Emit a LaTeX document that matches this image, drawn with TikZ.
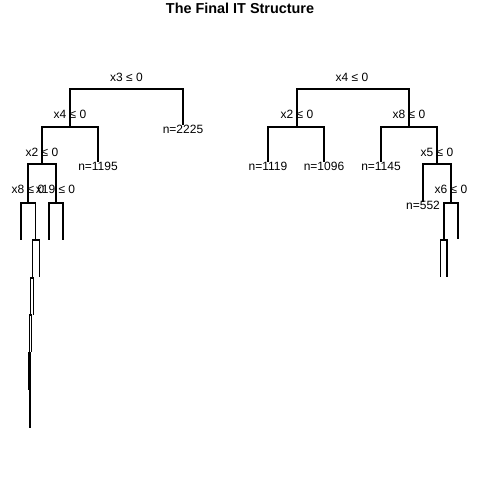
\documentclass[tikz,border=0pt]{standalone}
\usepackage{fontspec}
\setmainfont{Liberation Sans}
\begin{document}
\begin{tikzpicture}[x=1pt,y=-1pt,
  edge/.style={draw=black,line width=1.2pt},
  split/.style={inner sep=0pt,font=\fontsize{12}{12}\selectfont},
  leaf/.style={inner sep=0pt,font=\fontsize{12}{12}\selectfont},
  titlestyle/.style={inner sep=0pt,font=\fontsize{14.4}{14.4}\selectfont\bfseries}]
\useasboundingbox (0,0) rectangle (480,480);
\fill[white] (0,0) rectangle (480,480);
\node[titlestyle] (title) at (240,8.5) {The Final IT Structure};
% ---------- left tree ----------
\coordinate (A) at (126.5,89);
\coordinate (B) at (70,127);
\coordinate (C) at (183,125);
\coordinate (D) at (42,164);
\coordinate (E) at (98,162);
\coordinate (F) at (28,203);
\coordinate (G) at (56,203);
\coordinate (F1) at (21,240);
\coordinate (F2) at (35.7,240);
\coordinate (G1) at (49,240);
\coordinate (G2) at (63,240);
\coordinate (H1) at (32.3,278);
\coordinate (H2) at (39.3,277);
\coordinate (I1) at (30.3,315);
\coordinate (I2) at (33.3,315);
\coordinate (J1) at (29.3,353);
\coordinate (J2) at (31.6,352);
\coordinate (K1) at (28.4,390);
\coordinate (K2) at (29.9,390);
\coordinate (M1) at (29.2,428);
\coordinate (M2) at (30.5,428);
\draw[edge] (A) -| (B);
\draw[edge] (A) -| (C);
\draw[edge] (B) -| (D);
\draw[edge] (B) -| (E);
\draw[edge] (D) -| (F);
\draw[edge] (D) -| (G);
\draw[edge] (F) -| (F1);
\draw[edge] (F) -| (F2);
\draw[edge] (G) -| (G1);
\draw[edge] (G) -| (G2);
\draw[edge] (F2) -| (H1);
\draw[edge] (F2) -| (H2);
\draw[edge] (H1) -| (I1);
\draw[edge] (H1) -| (I2);
\draw[edge] (I1) -| (J1);
\draw[edge] (I1) -| (J2);
\draw[edge] (J1) -| (K1);
\draw[edge] (J1) -| (K2);
\draw[edge] (K2) -| (M1);
\draw[edge] (K2) -| (M2);
\node[split] (lA) at (126.5,77) {x3 ≤ 0};
\node[split] (lB) at (70,114) {x4 ≤ 0};
\node[split] (lD) at (42,152) {x2 ≤ 0};
\node[split] (lF) at (28,189) {x8 ≤ 0};
\node[split] (lG) at (55.5,189) {x19 ≤ 0};
\node[leaf] (lC) at (183,129) {n=2225};
\node[leaf] (lE) at (98,166) {n=1195};
% ---------- right tree ----------
\coordinate (R) at (353,89);
\coordinate (S) at (297,127);
\coordinate (T) at (409,127);
\coordinate (S1) at (268,162);
\coordinate (S2) at (324,162);
\coordinate (T1) at (381,162);
\coordinate (U) at (437,164);
\coordinate (U1) at (423,202);
\coordinate (V) at (451,203);
\coordinate (W) at (444,240);
\coordinate (V2) at (458,239);
\coordinate (W1) at (440.3,277);
\coordinate (W2) at (447,277);
\draw[edge] (R) -| (S);
\draw[edge] (R) -| (T);
\draw[edge] (S) -| (S1);
\draw[edge] (S) -| (S2);
\draw[edge] (T) -| (T1);
\draw[edge] (T) -| (U);
\draw[edge] (U) -| (U1);
\draw[edge] (U) -| (V);
\draw[edge] (V) -| (W);
\draw[edge] (V) -| (V2);
\draw[edge] (W) -| (W1);
\draw[edge] (W) -| (W2);
\node[split] (lR) at (352,77) {x4 ≤ 0};
\node[split] (lS) at (297,114) {x2 ≤ 0};
\node[split] (lT) at (409,114) {x8 ≤ 0};
\node[split] (lU) at (437,152) {x5 ≤ 0};
\node[split] (lV) at (451,189) {x6 ≤ 0};
\node[leaf] (lS1) at (268,166) {n=1119};
\node[leaf] (lS2) at (324,166) {n=1096};
\node[leaf] (lT1) at (381,166) {n=1145};
\node[leaf] (lU1) at (423,205) {n=552};
\end{tikzpicture}
\end{document}
